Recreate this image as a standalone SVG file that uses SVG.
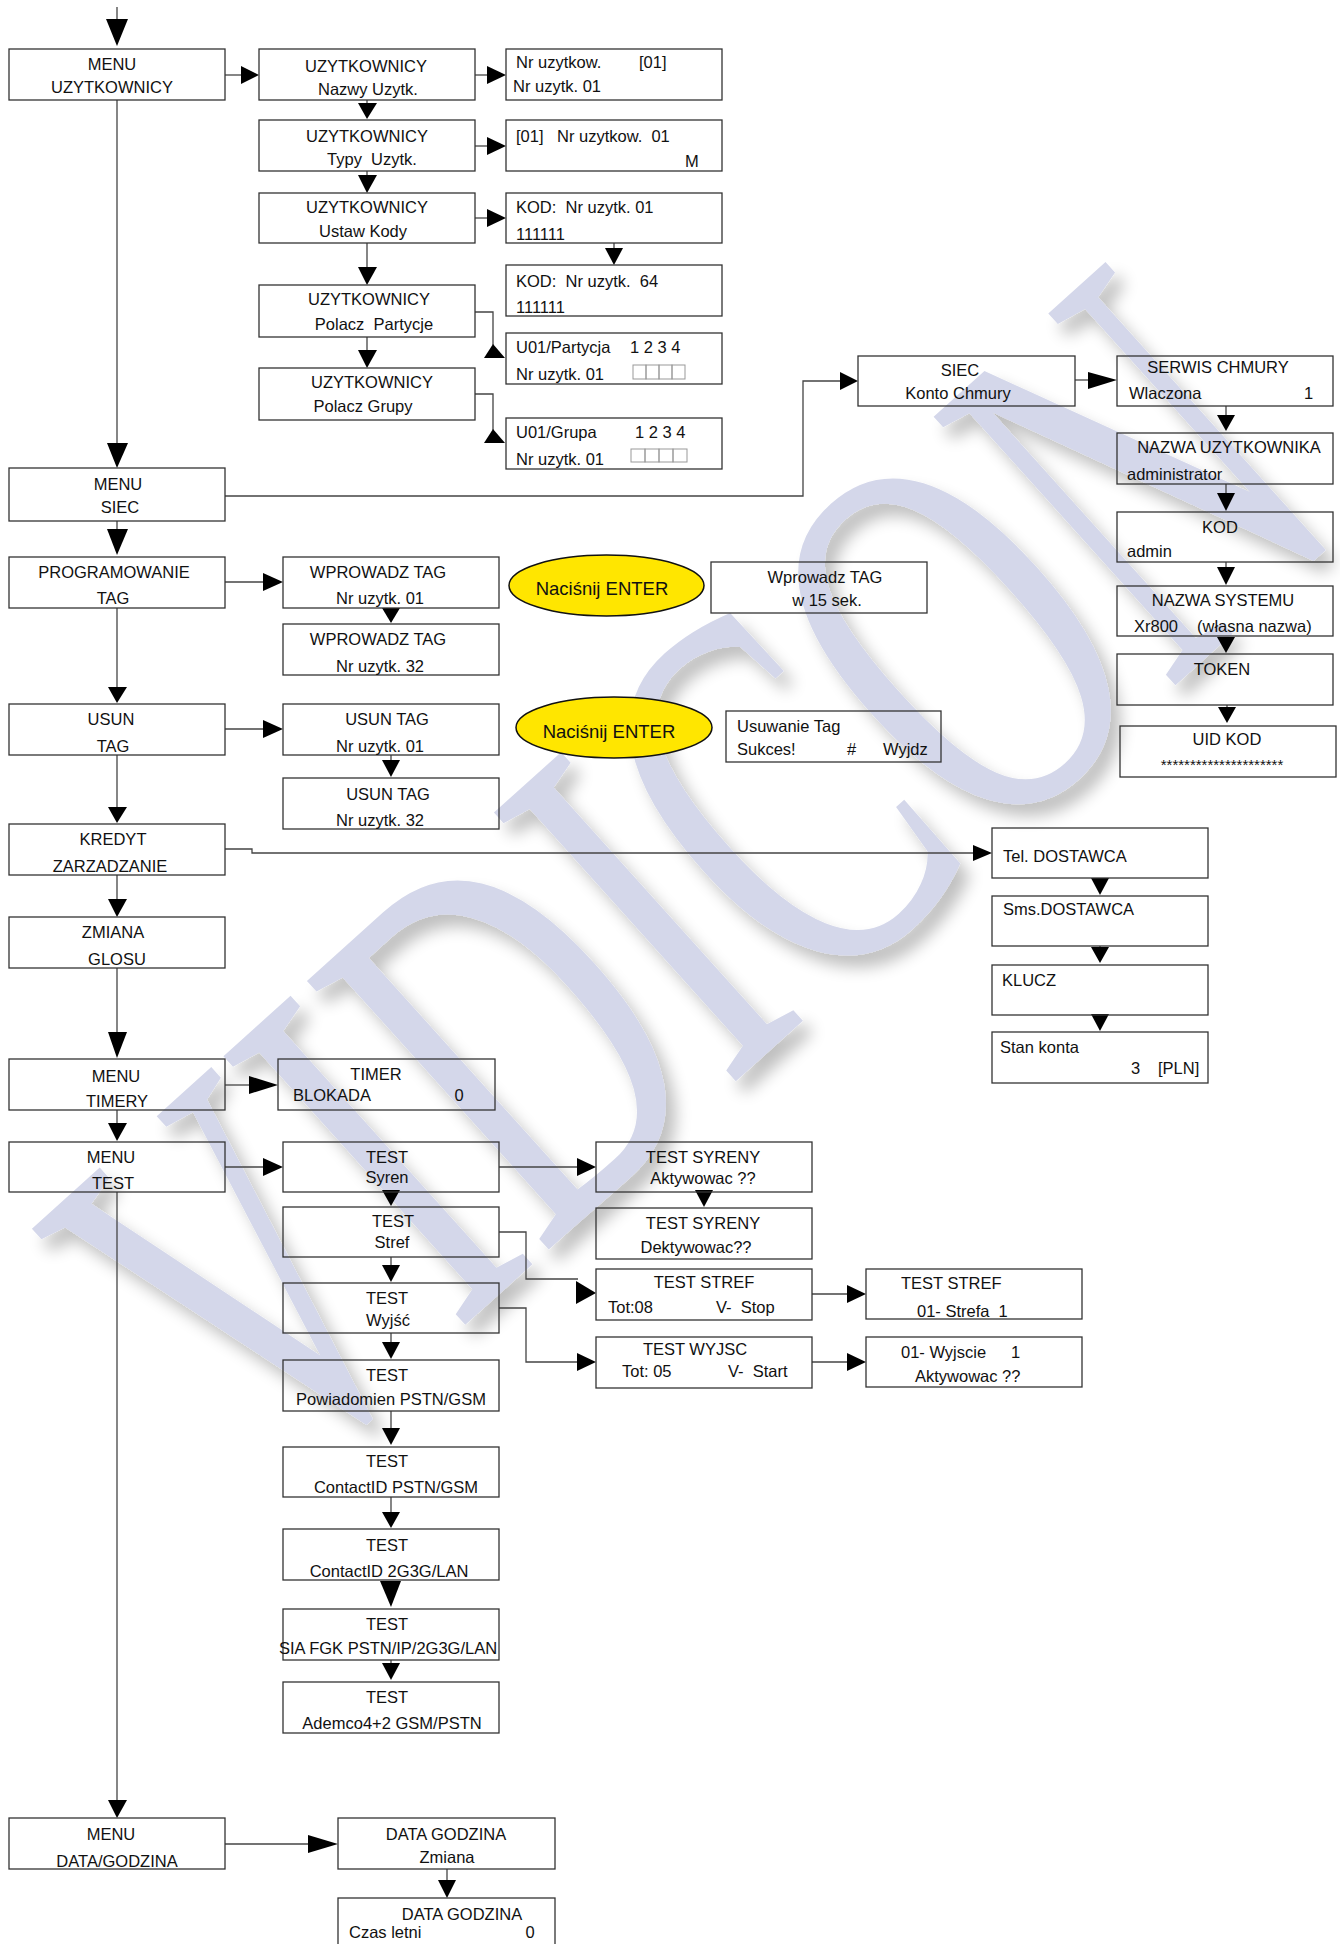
<svg xmlns="http://www.w3.org/2000/svg" width="1340" height="1944" viewBox="0 0 1340 1944">
<style>
.b{fill:none;stroke:#333;stroke-width:1.3}
.t{font-family:"Liberation Sans",Arial,sans-serif;font-size:16.5px;fill:#111}
.c{text-anchor:middle}
.l{fill:none;stroke:#444;stroke-width:1.3}
.ah{fill:#000}
.sq{fill:none;stroke:#999;stroke-width:1}
.el{fill:#FFE600;stroke:#111;stroke-width:1.5}
.en{font-family:"Liberation Sans",Arial,sans-serif;font-size:18.5px;fill:#111;text-anchor:middle}
.wm{font-family:"Liberation Serif","Times New Roman",serif;font-size:345px;fill:#D4D7EA}
</style>
<defs>
<filter id="sh" x="-10%" y="-10%" width="120%" height="120%">
<feGaussianBlur in="SourceAlpha" stdDeviation="8"/>
<feOffset dx="10" dy="12" result="o"/>
<feComponentTransfer><feFuncA type="linear" slope="0.25"/></feComponentTransfer>
<feMerge><feMergeNode/><feMergeNode in="SourceGraphic"/></feMerge>
</filter>
</defs>
<rect width="1340" height="1944" fill="#fff"/>
<g id="watermark" filter="url(#sh)">
<text class="wm" x="690" y="991" text-anchor="middle" transform="rotate(-42 690 877) translate(690 877) scale(1 1.6) translate(-690 -877)">VIDICON</text>
</g>
<g id="connectors">
<path class="l" d="M117,7V19"/><polygon class="ah" points="106,19 128,19 117,46"/>
<path class="l" d="M225,75H241"/><polygon class="ah" points="241,66 259,75 241,84"/>
<path class="l" d="M367,100V103"/><polygon class="ah" points="358,103 377,103 367,119"/>
<path class="l" d="M367,171V175"/><polygon class="ah" points="358,175 377,175 367,193"/>
<path class="l" d="M367,243V267"/><polygon class="ah" points="358,267 377,267 367,285"/>
<path class="l" d="M367,337V350"/><polygon class="ah" points="358,350 377,350 367,368"/>
<path class="l" d="M475,75H487"/><polygon class="ah" points="487,66 506,75 487,84"/>
<path class="l" d="M475,146H487"/><polygon class="ah" points="487,137 506,146 487,155"/>
<path class="l" d="M475,218H487"/><polygon class="ah" points="487,209 506,218 487,227"/>
<path class="l" d="M614,243V248"/><polygon class="ah" points="605,248 623,248 614,265"/>
<path class="l" d="M475,312H493V345"/><polygon class="ah" points="493,344 484,358 505,358"/>
<path class="l" d="M475,394H493V430"/><polygon class="ah" points="493,429 484,443 505,443"/>
<path class="l" d="M117,100V443"/><polygon class="ah" points="107,443 128,443 117,468"/>
<path class="l" d="M225,496H803V381H840"/><polygon class="ah" points="840,372 858,381 840,390"/>
<path class="l" d="M1075,380H1088"/><polygon class="ah" points="1088,372 1117,380 1088,389"/>
<path class="l" d="M1226,406V415"/><polygon class="ah" points="1217,415 1235,415 1226,431"/>
<path class="l" d="M1226,484V493"/><polygon class="ah" points="1217,493 1235,493 1226,511"/>
<path class="l" d="M1226,562V567"/><polygon class="ah" points="1217,567 1235,567 1226,585"/>
<polygon class="ah" points="1217,637 1235,637 1226,653"/>
<path class="l" d="M1227,705V707"/><polygon class="ah" points="1218,707 1236,707 1227,723"/>
<path class="l" d="M117,521V529"/><polygon class="ah" points="107,529 128,529 117,555"/>
<path class="l" d="M225,582H263"/><polygon class="ah" points="263,573 283,582 263,591"/>
<polygon class="ah" points="382,608 400,608 391,623"/>
<path class="l" d="M117,608V687"/><polygon class="ah" points="108,687 127,687 117,703"/>
<path class="l" d="M225,729H263"/><polygon class="ah" points="263,720 283,729 263,738"/>
<path class="l" d="M391,755V760"/><polygon class="ah" points="382,760 400,760 391,777"/>
<path class="l" d="M117,755V807"/><polygon class="ah" points="108,807 127,807 117,823"/>
<path class="l" d="M225,849H252V853H973"/><polygon class="ah" points="973,845 992,853 973,861"/>
<path class="l" d="M117,875V899"/><polygon class="ah" points="108,899 127,899 117,917"/>
<polygon class="ah" points="1091,878 1109,878 1100,895"/>
<path class="l" d="M1100,946V947"/><polygon class="ah" points="1091,947 1109,947 1100,963"/>
<polygon class="ah" points="1091,1014 1109,1014 1100,1031"/>
<path class="l" d="M117,968V1032"/><polygon class="ah" points="108,1032 127,1032 117,1058"/>
<path class="l" d="M225,1085H249"/><polygon class="ah" points="249,1076 278,1085 249,1094"/>
<path class="l" d="M117,1110V1123"/><polygon class="ah" points="108,1123 127,1123 117,1141"/>
<path class="l" d="M225,1167H263"/><polygon class="ah" points="263,1158 283,1167 263,1176"/>
<polygon class="ah" points="382,1190 400,1190 391,1206"/>
<path class="l" d="M391,1257V1265"/><polygon class="ah" points="382,1265 400,1265 391,1282"/>
<path class="l" d="M391,1333V1342"/><polygon class="ah" points="382,1342 400,1342 391,1359"/>
<path class="l" d="M391,1411V1428"/><polygon class="ah" points="382,1428 400,1428 391,1445"/>
<path class="l" d="M391,1497V1512"/><polygon class="ah" points="382,1512 400,1512 391,1528"/>
<polygon class="ah" points="380,1581 401,1581 391,1607"/>
<path class="l" d="M391,1660V1663"/><polygon class="ah" points="382,1663 400,1663 391,1680"/>
<path class="l" d="M499,1167H577"/><polygon class="ah" points="577,1158 596,1167 577,1176"/>
<polygon class="ah" points="695,1190 713,1190 704,1207"/>
<path class="l" d="M499,1232H526V1279H578"/><polygon class="ah" points="576,1281 596,1293 576,1304"/>
<path class="l" d="M499,1308H526V1362H577"/><polygon class="ah" points="577,1353 596,1362 577,1371"/>
<path class="l" d="M812,1294H847"/><polygon class="ah" points="847,1285 866,1294 847,1303"/>
<path class="l" d="M812,1362H847"/><polygon class="ah" points="847,1353 866,1362 847,1371"/>
<path class="l" d="M117,1192V1800"/><polygon class="ah" points="108,1800 127,1800 117,1818"/>
<path class="l" d="M225,1844H308"/><polygon class="ah" points="308,1835 338,1844 308,1853"/>
<path class="l" d="M447,1869V1880"/><polygon class="ah" points="438,1880 456,1880 447,1898"/>
</g>
<g id="menu_uzytkownicy"><rect class="b" x="9" y="49" width="216" height="51"/><text class="t c" x="112" y="70">MENU</text><text class="t c" x="112" y="93">UZYTKOWNICY</text></g>
<g id="uz_nazwy"><rect class="b" x="259" y="49" width="216" height="51"/><text class="t c" x="366" y="72">UZYTKOWNICY</text><text class="t c" x="368" y="95">Nazwy Uzytk.</text></g>
<g id="uz_typy"><rect class="b" x="259" y="120" width="216" height="51"/><text class="t c" x="367" y="142">UZYTKOWNICY</text><text class="t c" x="372" y="165" xml:space="preserve">Typy  Uzytk.</text></g>
<g id="uz_kody"><rect class="b" x="259" y="193" width="216" height="50"/><text class="t c" x="367" y="213">UZYTKOWNICY</text><text class="t c" x="363" y="237">Ustaw Kody</text></g>
<g id="uz_partycje"><rect class="b" x="259" y="285" width="216" height="52"/><text class="t c" x="369" y="305">UZYTKOWNICY</text><text class="t c" x="374" y="330" xml:space="preserve">Polacz  Partycje</text></g>
<g id="uz_grupy"><rect class="b" x="259" y="368" width="216" height="52"/><text class="t c" x="372" y="388">UZYTKOWNICY</text><text class="t c" x="363" y="412">Polacz Grupy</text></g>
<g id="nr_uzytkow"><rect class="b" x="506" y="49" width="216" height="51"/><text class="t" x="516" y="68">Nr uzytkow.</text><text class="t" x="639" y="68">[01]</text><text class="t" x="513" y="92">Nr uzytk. 01</text></g>
<g id="typ_m"><rect class="b" x="506" y="120" width="216" height="51"/><text class="t" x="516" y="142">[01]</text><text class="t" x="557" y="142" xml:space="preserve">Nr uzytkow.  01</text><text class="t" x="685" y="167">M</text></g>
<g id="kod01"><rect class="b" x="506" y="193" width="216" height="50"/><text class="t" x="516" y="213" xml:space="preserve">KOD:  Nr uzytk. 01</text><text class="t" x="516" y="240">111111</text></g>
<g id="kod64"><rect class="b" x="506" y="265" width="216" height="51"/><text class="t" x="516" y="287" xml:space="preserve">KOD:  Nr uzytk.  64</text><text class="t" x="516" y="313">111111</text></g>
<g id="partycja"><rect class="b" x="506" y="333" width="216" height="51"/><text class="t" x="516" y="353">U01/Partycja</text><text class="t" x="630" y="353">1 2 3 4</text><text class="t" x="516" y="380">Nr uzytk. 01</text>
<rect class="sq" x="633" y="365" width="13" height="14"/><rect class="sq" x="646" y="365" width="13" height="14"/><rect class="sq" x="659" y="365" width="13" height="14"/><rect class="sq" x="672" y="365" width="13" height="14"/></g>
<g id="grupa"><rect class="b" x="506" y="418" width="216" height="51"/><text class="t" x="516" y="438">U01/Grupa</text><text class="t" x="635" y="438">1 2 3 4</text><text class="t" x="516" y="465">Nr uzytk. 01</text>
<rect class="sq" x="631" y="449" width="14" height="13"/><rect class="sq" x="645" y="449" width="14" height="13"/><rect class="sq" x="659" y="449" width="14" height="13"/><rect class="sq" x="673" y="449" width="14" height="13"/></g>
<g id="menu_siec"><rect class="b" x="9" y="468" width="216" height="53"/><text class="t c" x="118" y="490">MENU</text><text class="t c" x="120" y="513">SIEC</text></g>
<g id="siec_konto"><rect class="b" x="858" y="356" width="217" height="50"/><text class="t c" x="960" y="376">SIEC</text><text class="t c" x="958" y="399">Konto Chmury</text></g>
<g id="serwis"><rect class="b" x="1117" y="356" width="216" height="50"/><text class="t c" x="1218" y="373">SERWIS CHMURY</text><text class="t" x="1129" y="399">Wlaczona</text><text class="t" x="1304" y="399">1</text></g>
<g id="nazwa_uz"><rect class="b" x="1117" y="433" width="216" height="51"/><text class="t c" x="1229" y="453">NAZWA UZYTKOWNIKA</text><text class="t" x="1127" y="480">administrator</text></g>
<g id="kod"><rect class="b" x="1117" y="512" width="216" height="50"/><text class="t c" x="1220" y="533">KOD</text><text class="t" x="1127" y="557">admin</text></g>
<g id="nazwa_sys"><rect class="b" x="1117" y="586" width="216" height="50"/><text class="t c" x="1223" y="606">NAZWA SYSTEMU</text><text class="t" x="1134" y="632">Xr800</text><text class="t" x="1197" y="632">(własna nazwa)</text></g>
<g id="token"><rect class="b" x="1117" y="654" width="216" height="51"/><text class="t c" x="1222" y="675">TOKEN</text></g>
<g id="uid"><rect class="b" x="1120" y="726" width="216" height="51"/><text class="t c" x="1227" y="745">UID KOD</text><text class="t c" x="1222" y="770" style="font-size:15px">*********************</text></g>
<g id="prog_tag"><rect class="b" x="9" y="557" width="216" height="51"/><text class="t c" x="114" y="578">PROGRAMOWANIE</text><text class="t c" x="113" y="604">TAG</text></g>
<g id="wpr1"><rect class="b" x="283" y="557" width="216" height="51"/><text class="t c" x="378" y="578">WPROWADZ TAG</text><text class="t c" x="380" y="604">Nr uzytk. 01</text></g>
<g id="wpr32"><rect class="b" x="283" y="624" width="216" height="51"/><text class="t c" x="378" y="645">WPROWADZ TAG</text><text class="t c" x="380" y="672">Nr uzytk. 32</text></g>
<g id="enter1"><ellipse class="el" cx="606.5" cy="585.5" rx="97.5" ry="30.5"/><text class="en" x="602" y="595">Naciśnij ENTER</text></g>
<g id="wpr15"><rect class="b" x="711" y="562" width="216" height="51"/><text class="t c" x="825" y="583">Wprowadz TAG</text><text class="t c" x="827" y="606">w 15 sek.</text></g>
<g id="usun_tag"><rect class="b" x="9" y="704" width="216" height="51"/><text class="t c" x="111" y="725">USUN</text><text class="t c" x="113" y="752">TAG</text></g>
<g id="usun1"><rect class="b" x="283" y="704" width="216" height="51"/><text class="t c" x="387" y="725">USUN TAG</text><text class="t c" x="380" y="752">Nr uzytk. 01</text></g>
<g id="usun32"><rect class="b" x="283" y="778" width="216" height="51"/><text class="t c" x="388" y="800">USUN TAG</text><text class="t c" x="380" y="826">Nr uzytk. 32</text></g>
<g id="enter2"><ellipse class="el" cx="614" cy="727.5" rx="98" ry="30.5"/><text class="en" x="609" y="738">Naciśnij ENTER</text></g>
<g id="usuwanie"><rect class="b" x="726" y="711" width="215" height="51"/><text class="t" x="737" y="732">Usuwanie Tag</text><text class="t" x="737" y="755">Sukces!</text><text class="t" x="847" y="755">#</text><text class="t" x="883" y="755">Wyjdz</text></g>
<g id="kredyt"><rect class="b" x="9" y="824" width="216" height="51"/><text class="t c" x="113" y="845">KREDYT</text><text class="t c" x="110" y="872">ZARZADZANIE</text></g>
<g id="zmiana"><rect class="b" x="9" y="917" width="216" height="51"/><text class="t c" x="113" y="938">ZMIANA</text><text class="t c" x="117" y="965">GLOSU</text></g>
<g id="tel"><rect class="b" x="992" y="828" width="216" height="50"/><text class="t" x="1003" y="862">Tel. DOSTAWCA</text></g>
<g id="sms"><rect class="b" x="992" y="896" width="216" height="50"/><text class="t" x="1003" y="915">Sms.DOSTAWCA</text></g>
<g id="klucz"><rect class="b" x="992" y="965" width="216" height="50"/><text class="t" x="1002" y="986">KLUCZ</text></g>
<g id="stan"><rect class="b" x="992" y="1032" width="216" height="51"/><text class="t" x="1000" y="1053">Stan konta</text><text class="t" x="1131" y="1074">3</text><text class="t" x="1158" y="1074">[PLN]</text></g>
<g id="menu_timery"><rect class="b" x="9" y="1059" width="216" height="51"/><text class="t c" x="116" y="1082">MENU</text><text class="t c" x="117" y="1107">TIMERY</text></g>
<g id="timer"><rect class="b" x="278" y="1059" width="217" height="51"/><text class="t c" x="376" y="1080">TIMER</text><text class="t" x="293" y="1101">BLOKADA</text><text class="t c" x="459" y="1101">0</text></g>
<g id="menu_test"><rect class="b" x="9" y="1142" width="216" height="50"/><text class="t c" x="111" y="1163">MENU</text><text class="t c" x="113" y="1189">TEST</text></g>
<g id="t_syren"><rect class="b" x="283" y="1142" width="216" height="50"/><text class="t c" x="387" y="1163">TEST</text><text class="t c" x="387" y="1183">Syren</text></g>
<g id="t_stref"><rect class="b" x="283" y="1207" width="216" height="50"/><text class="t c" x="393" y="1227">TEST</text><text class="t c" x="392" y="1248">Stref</text></g>
<g id="t_wyjsc"><rect class="b" x="283" y="1283" width="216" height="50"/><text class="t c" x="387" y="1304">TEST</text><text class="t c" x="388" y="1326">Wyjść</text></g>
<g id="t_pow"><rect class="b" x="283" y="1360" width="216" height="51"/><text class="t c" x="387" y="1381">TEST</text><text class="t c" x="391" y="1405">Powiadomien PSTN/GSM</text></g>
<g id="t_cid1"><rect class="b" x="283" y="1447" width="216" height="50"/><text class="t c" x="387" y="1467">TEST</text><text class="t c" x="396" y="1493">ContactID PSTN/GSM</text></g>
<g id="t_cid2"><rect class="b" x="283" y="1529" width="216" height="51"/><text class="t c" x="387" y="1551">TEST</text><text class="t c" x="389" y="1577">ContactID 2G3G/LAN</text></g>
<g id="t_sia"><rect class="b" x="283" y="1609" width="216" height="51"/><text class="t c" x="387" y="1630">TEST</text><text class="t c" x="388" y="1654">SIA FGK PSTN/IP/2G3G/LAN</text></g>
<g id="t_ademco"><rect class="b" x="283" y="1682" width="216" height="51"/><text class="t c" x="387" y="1703">TEST</text><text class="t c" x="392" y="1729">Ademco4+2 GSM/PSTN</text></g>
<g id="syreny_a"><rect class="b" x="596" y="1142" width="216" height="50"/><text class="t c" x="703" y="1163">TEST SYRENY</text><text class="t c" x="703" y="1184">Aktywowac ??</text></g>
<g id="syreny_d"><rect class="b" x="596" y="1208" width="216" height="51"/><text class="t c" x="703" y="1229">TEST SYRENY</text><text class="t c" x="696" y="1253">Dektywowac??</text></g>
<g id="stref_tot"><rect class="b" x="596" y="1269" width="216" height="51"/><text class="t c" x="704" y="1288">TEST STREF</text><text class="t" x="608" y="1313">Tot:08</text><text class="t" x="716" y="1313" xml:space="preserve">V-  Stop</text></g>
<g id="wyjsc_tot"><rect class="b" x="596" y="1337" width="216" height="51"/><text class="t c" x="695" y="1355">TEST WYJSC</text><text class="t" x="622" y="1377">Tot: 05</text><text class="t" x="728" y="1377" xml:space="preserve">V-  Start</text></g>
<g id="stref01"><rect class="b" x="866" y="1269" width="216" height="50"/><text class="t" x="901" y="1289">TEST STREF</text><text class="t" x="917" y="1317" xml:space="preserve">01- Strefa  1</text></g>
<g id="wyjscie01"><rect class="b" x="866" y="1337" width="216" height="50"/><text class="t" x="901" y="1358">01- Wyjscie</text><text class="t" x="1011" y="1358">1</text><text class="t" x="915" y="1382">Aktywowac ??</text></g>
<g id="menu_data"><rect class="b" x="9" y="1818" width="216" height="51"/><text class="t c" x="111" y="1840">MENU</text><text class="t c" x="117" y="1867">DATA/GODZINA</text></g>
<g id="data_zm"><rect class="b" x="338" y="1818" width="217" height="51"/><text class="t c" x="446" y="1840">DATA GODZINA</text><text class="t c" x="447" y="1863">Zmiana</text></g>
<g id="data_cz"><rect class="b" x="338" y="1898" width="217" height="50"/><text class="t c" x="462" y="1920">DATA GODZINA</text><text class="t" x="349" y="1938">Czas letni</text><text class="t c" x="530" y="1938">0</text></g>
</svg>
